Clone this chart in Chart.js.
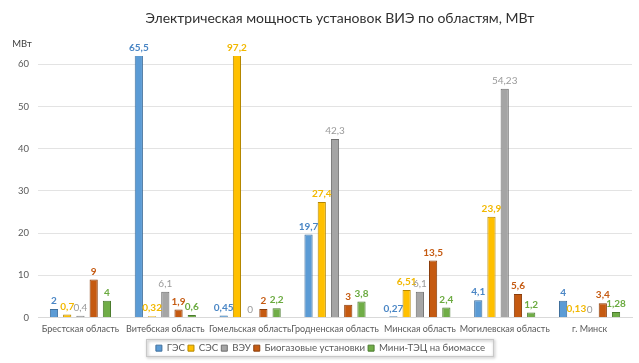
<!DOCTYPE html>
<html><head><meta charset="utf-8">
<script src="https://cdn.jsdelivr.net/npm/chart.js@4"></script>
<style>html,body{margin:0;padding:0;background:#fff}#wrap{width:639px;height:363px}</style>
</head><body><div id="wrap"><canvas id="c"></canvas></div>
<script>
const titleText = 'Электрическая мощность установок ВИЭ по областям, МВт';
const categories = ["Брестская область","Витебская область","Гомельская область","Гродненская область","Минская область","Могилевская область","г. Минск"];
const seriesNames = ["ГЭС","СЭС","ВЭУ","Биогазовые установки","Мини-ТЭЦ на биомассе"];
const ges   = [2, 65.5, 0.45, 19.7, 0.27, 4.1, 4];
const ses   = [0.7, 0.32, 97.2, 27.4, 6.51, 23.9, 0.13];
const veu   = [0.4, 6.1, 0, 42.3, 6.1, 54.23, 0];
const biogas= [9, 1.9, 2, 3, 13.5, 5.6, 3.4];
const mini  = [4, 0.6, 2.2, 3.8, 2.4, 1.2, 1.28];
const yTicks = [0,10,20,30,40,50,60];

const FONT = 'Lato, "Open Sans", sans-serif';
const colors = ["#5B9BD5","#FFC000","#A5A5A5","#C55A11","#70AD47"];
const borders = ["#3F6F9C","#B38600","#6E6E6E","#8A3D0B","#4A7A2E"];
const labelColors = ["#4A86C5","#F2B800","#9A9A9A","#C55A11","#6AAA3F"];
const allSeries = [ges, ses, veu, biogas, mini];

const labelPlugin = {
  id:'vals',
  afterDatasetsDraw(chart){
    const ctx = chart.ctx;
    const top = chart.chartArea.top;
    ctx.save();
    ctx.textAlign='center';
    ctx.textBaseline='bottom';
    chart.data.datasets.forEach((ds,i)=>{
      const meta = chart.getDatasetMeta(i);
      meta.data.forEach((bar,j)=>{
        const v = ds.data[j];
        let y = Math.max(bar.y, top) - 3;
        ctx.font = (i===2 ? '' : 'bold ') + '10px ' + FONT;
        ctx.fillStyle = labelColors[i];
        ctx.fillText(String(v).replace('.',','), bar.x, y);
      });
    });
    ctx.font = '14px ' + FONT;
    ctx.fillStyle = '#303030';
    ctx.textAlign='center';
    ctx.textBaseline='middle';
    ctx.fillText(titleText, 340, 18);
    ctx.font = '9.5px ' + FONT;
    ctx.fillStyle = '#404040';
    ctx.fillText('МВт', 22, 44);
    const lg = chart.legend;
    if (lg && lg.legendHitBoxes && lg.legendHitBoxes.length){
      const hb = lg.legendHitBoxes;
      let l = Infinity, r = -Infinity, t = Infinity, b = -Infinity;
      hb.forEach(h=>{ l=Math.min(l,h.left); r=Math.max(r,h.left+h.width); t=Math.min(t,h.top); b=Math.max(b,h.top+h.height); });
      l -= 10; r += 8; t -= 4; b += 3;
      ctx.shadowColor='rgba(0,0,0,0.4)';
      ctx.shadowBlur=3; ctx.shadowOffsetX=1; ctx.shadowOffsetY=1;
      ctx.strokeStyle='#C8C8C8';
      ctx.lineWidth=1;
      ctx.strokeRect(Math.round(l)+0.5, Math.round(t)+0.5, Math.round(r-l), Math.round(b-t));
    }
    ctx.restore();
  }
};

new Chart(document.getElementById('c'), {
  type:'bar',
  data:{
    labels: categories,
    datasets: allSeries.map((d,i)=>({
      label: seriesNames[i], data: d,
      backgroundColor: colors[i], borderColor: borders[i], borderWidth: 1,
      categoryPercentage: 0.78, barPercentage: 0.62
    }))
  },
  options:{
    responsive:true, maintainAspectRatio:false, animation:false,
    layout:{padding:{left:9,right:7,top:56,bottom:0}},
    plugins:{
      title:{display:false},
      legend:{position:'bottom', labels:{boxWidth:6, boxHeight:6, color:'#595959', padding:3,
        font:{family:FONT, size:9.7}}},
      tooltip:{enabled:false}
    },
    scales:{
      x:{grid:{display:false, drawTicks:false}, border:{color:'#D9D9D9'},
        ticks:{color:'#595959', autoSkip:false, font:{family:FONT, size:9}, maxRotation:0, padding:6}},
      y:{min:0, max:62, grid:{color:'#E3E3E3', drawTicks:false}, border:{display:false},
        afterBuildTicks(s){ s.ticks = yTicks.map(v=>({value:v})); },
        ticks:{color:'#595959', font:{family:FONT, size:9.5}, padding:9}}
    }
  },
  plugins:[labelPlugin]
});
</script></body></html>
